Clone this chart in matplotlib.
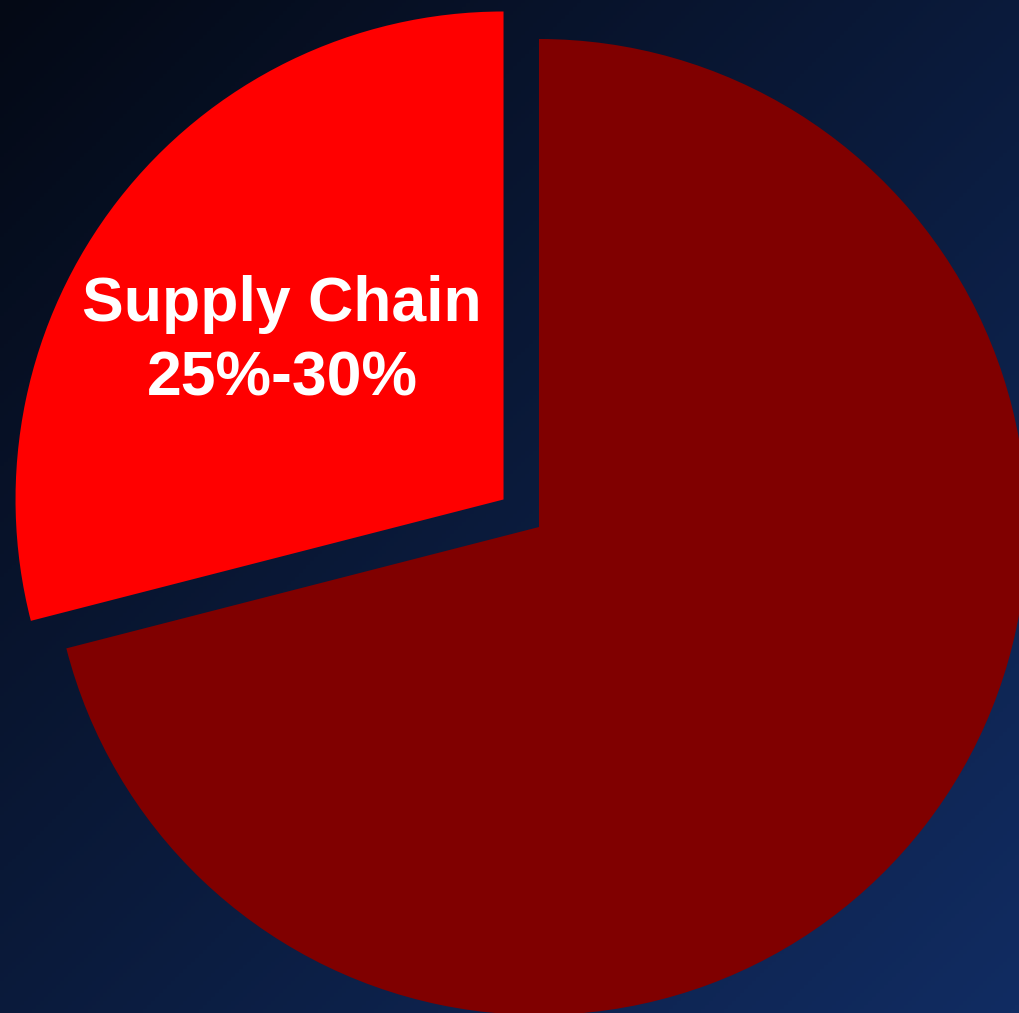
import numpy as np
import matplotlib.pyplot as plt
from matplotlib.colors import LinearSegmentedColormap

# share of cost: supply chain vs everything else
labels = ["Supply Chain\n25%-30%", ""]
shares = [29, 71]
colors = ["#ff0000", "#800000"]
explode = [0.092, 0]

BG_DARK = "#040915"
BG_LIGHT = "#112c62"

fig = plt.figure(figsize=(10.19, 10.13), dpi=100)

# diagonal navy gradient behind the pie
bg = fig.add_axes([0, 0, 1, 1])
bg.set_axis_off()
yy, xx = np.mgrid[0:1:256j, 0:1:256j]
grad = (xx + yy) / 2
cmap = LinearSegmentedColormap.from_list("bg", [BG_DARK, BG_LIGHT])
bg.imshow(grad, cmap=cmap, aspect="auto", extent=(0, 1, 0, 1), origin="upper")

ax = fig.add_axes([0, 0, 1, 1])
ax.set_facecolor("none")
wedges, texts = ax.pie(
    shares,
    labels=labels,
    colors=colors,
    explode=explode,
    startangle=90,
    counterclock=True,
    labeldistance=0.56,
    wedgeprops=dict(linewidth=0),
    textprops=dict(color="white", fontsize=45, fontweight="bold",
                   family="Liberation Sans", ha="center", va="center",
                   linespacing=1.35),
)

# nudge the label a little down and left inside the slice
lx, ly = texts[0].get_position()
texts[0].set_position((lx - 0.011, ly - 0.02))

# 1 data unit = 488 px, dark slice centred at (539, 527) px from top-left
ax.set_aspect("auto")
ax.set_xlim(-539 / 488, (1019 - 539) / 488)
ax.set_ylim(-(1013 - 527) / 488, 527 / 488)
ax.set_axis_off()

fig.savefig("out.png", dpi=100)
